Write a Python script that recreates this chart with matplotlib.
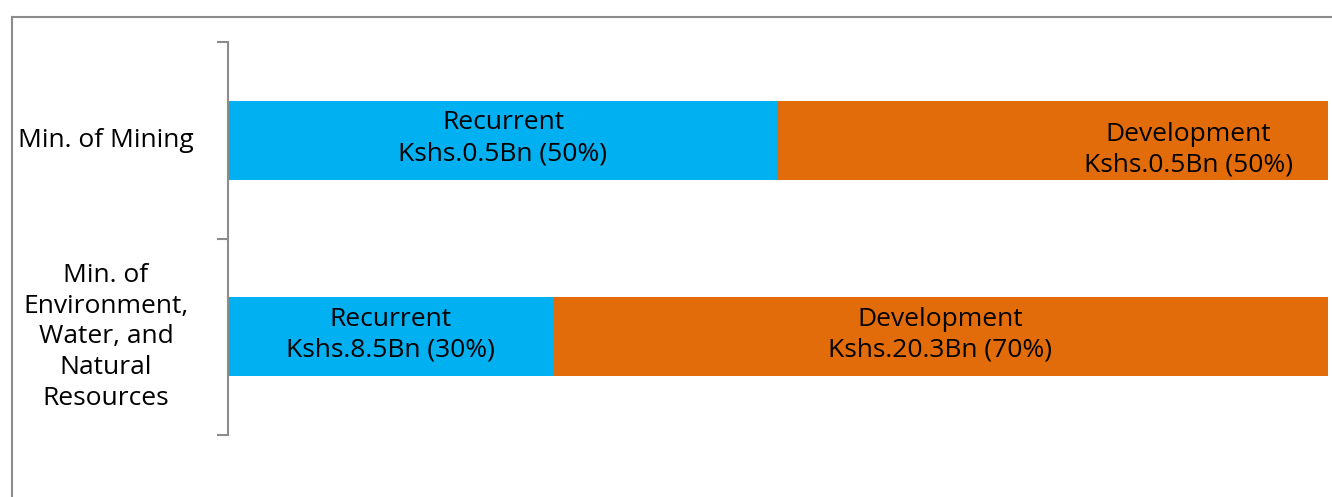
import matplotlib
matplotlib.use("Agg")
import matplotlib.pyplot as plt
import matplotlib.transforms as mtransforms
from matplotlib.lines import Line2D

# data
categories = ["Min. of Mining", "Min. of\nEnvironment,\nWater, and\nNatural\nResources"]
recurrent = [0.5, 8.5]
development = [0.5, 20.3]
recurrent_pct = [50, 30]
development_pct = [50, 70]

plt.rcParams['font.family'] = ['Open Sans', 'DejaVu Sans']
FS = 19
LS = 1.3

fig = plt.figure(figsize=(13.32, 4.97), dpi=100)
ax = fig.add_axes([228 / 1332, 1 - 435 / 497, 1100 / 1332, 393 / 497])

y = list(range(len(categories)))
totals = [r + d for r, d in zip(recurrent, development)]
rec_share = [r / t * 100 for r, t in zip(recurrent, totals)]
dev_share = [d / t * 100 for d, t in zip(development, totals)]

ax.barh(y, rec_share, height=0.4, color='#00B0F0')
ax.barh(y, dev_share, left=rec_share, height=0.4, color='#E36C0A')

ax.set_xlim(0, 100)
ax.set_ylim(1.5, -0.5)

# bar labels
for i in y:
    ax.text(rec_share[i] / 2, i - 0.01,
            f"Recurrent\nKshs.{recurrent[i]}Bn ({recurrent_pct[i]}%)",
            ha='center', va='center', fontsize=FS, linespacing=LS)
    if i == 0:
        # label sits toward the right end in the original
        xd, yd = 87.3, i + 0.05
    else:
        xd, yd = rec_share[i] + dev_share[i] / 2, i - 0.01
    ax.text(xd, yd,
            f"Development\nKshs.{development[i]}Bn ({development_pct[i]}%)",
            ha='center', va='center', fontsize=FS, linespacing=LS)

# category labels
trans = mtransforms.blended_transform_factory(ax.transAxes, ax.transData)
for i, name in enumerate(categories):
    ax.text(-0.111, i, name, transform=trans, ha='center', va='center',
            fontsize=FS, linespacing=LS, multialignment='center')

ax.set_yticks([])
ax.set_yticks([-0.5, 0.5, 1.5], minor=True)
ax.tick_params(axis='y', which='minor', length=8, width=1.5, color='#8c8c8c',
               labelleft=False)
ax.set_xticks([])
for s in ['top', 'right', 'bottom']:
    ax.spines[s].set_visible(False)
ax.spines['left'].set_color('#8c8c8c')
ax.spines['left'].set_linewidth(1.5)

# outer frame (cut off at the right and bottom)
fx, fy = 12 / 1332, 1 - 17 / 497
fig.add_artist(Line2D([fx, fx], [0, fy], color='#8c8c8c', lw=1.5))
fig.add_artist(Line2D([fx, 1], [fy, fy], color='#8c8c8c', lw=1.5))

fig.savefig("out.png", dpi=100)
